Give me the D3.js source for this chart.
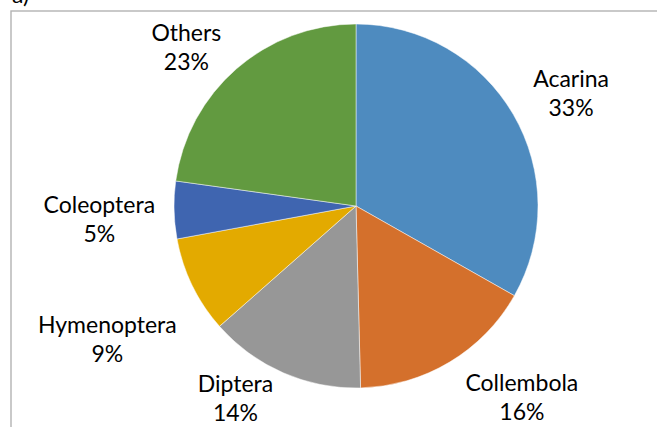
<!DOCTYPE html>
<html>
<head>
<meta charset="utf-8">
<script src="https://cdn.jsdelivr.net/npm/d3@7"></script>
<style>
html,body{margin:0;padding:0;background:#fff;}
svg{display:block;}
text{font-family:Lato,"Open Sans",sans-serif;}
</style>
</head>
<body>
<svg id="chart" width="657" height="427"></svg>
<script>
// ---- data ----
const categories = ["Acarina", "Collembola", "Diptera", "Hymenoptera", "Coleoptera", "Others"];
const values = [33.2, 16.4, 13.9, 8.6, 5.1, 22.8];
const colors = ["#4e8bbf", "#d4702c", "#979797", "#e3aa00", "#3f65b0", "#629a40"];

// ---- layout ----
const W = 657, H = 427;
const cx = 356, cy = 206, R = 182;
const fontSize = 23, lineGap = 29;
// small label nudges (layout only)
const nudges = [[13, 0], [36, -2], [-27, -14], [-10, 34], [-5, 8], [-18, 10]];

const svg = d3.select("#chart");

// frame
svg.append("rect").attr("x", 11).attr("y", 11).attr("width", 720).attr("height", 520)
  .attr("fill", "none").attr("stroke", "#b3b3b3").attr("stroke-width", 1.4);

svg.append("text").attr("x", 12).attr("y", 3).attr("font-size", fontSize).attr("fill", "#000").text("a)");

const data = categories.map((c, i) => ({ name: c, value: values[i], color: colors[i] }));
const pie = d3.pie().sort(null).value(d => d.value);
const arcs = pie(data);
const arc = d3.arc().innerRadius(0).outerRadius(R);

const g = svg.append("g").attr("transform", `translate(${cx},${cy})`);
g.selectAll("path").data(arcs).join("path")
  .attr("d", arc)
  .attr("fill", d => d.data.color)
  .attr("stroke", "#ffffff")
  .attr("stroke-opacity", 0.6)
  .attr("stroke-width", 0.8);

const total = d3.sum(values);
const lg = g.selectAll("g.lbl").data(arcs).join("g").attr("class", "lbl");
lg.each(function (d, i) {
  const sel = d3.select(this);
  const t = sel.append("text").attr("text-anchor", "middle").attr("font-size", fontSize).attr("fill", "#000");
  t.append("tspan").attr("x", 0).attr("dy", 0).text(d.data.name);
  t.append("tspan").attr("x", 0).attr("dy", lineGap).text(Math.round(d.data.value / total * 100) + "%");
  const bb = t.node().getBBox();
  const th = (d.startAngle + d.endAngle) / 2;
  const s = Math.sin(th), c = -Math.cos(th);
  const pad = 14;
  const ax = (R + pad) * s + bb.width / 2 * s;
  const ay = (R + pad) * c + bb.height / 2 * c;
  const bcx = bb.x + bb.width / 2, bcy = bb.y + bb.height / 2;
  sel.attr("transform", `translate(${ax - bcx + nudges[i][0]},${ay - bcy + nudges[i][1]})`);
});
</script>
</body>
</html>
